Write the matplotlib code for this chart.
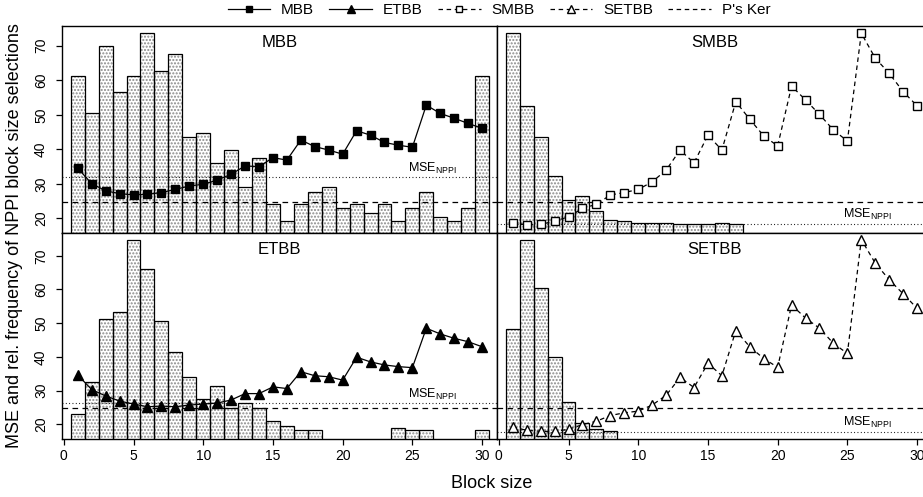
import numpy as np
import matplotlib
matplotlib.use("Agg")
import matplotlib.pyplot as plt
from matplotlib.lines import Line2D

plt.rcParams['font.family'] = ['Liberation Sans', 'DejaVu Sans']
plt.rcParams['mathtext.fontset'] = 'custom'
plt.rcParams['mathtext.rm'] = 'Liberation Sans'
plt.rcParams['mathtext.it'] = 'Liberation Sans'

block = np.arange(1, 31)

mbb_freq = [61.3, 50.6, 69.9, 56.7, 61.3, 73.6, 62.7, 67.6, 43.5, 44.6, 36.1, 39.8, 29.0, 37.4, 24.1,
            19.2, 24.1, 27.7, 29.0, 22.9, 24.1, 21.7, 24.1, 19.2, 22.9, 27.7, 20.5, 19.2, 22.9, 61.3]
mbb_mse = [34.5, 30.1, 28.0, 27.2, 26.8, 27.0, 27.5, 28.4, 29.4, 29.9, 31.1, 32.8, 35.2, 35.0, 37.6,
           36.9, 42.7, 40.8, 39.8, 38.6, 45.4, 44.1, 42.0, 41.2, 40.6, 52.8, 50.4, 49.0, 47.5, 46.1]

smbb_freq = [73.6, 52.6, 43.7, 32.3, 25.3, 26.5, 22.1, 19.7, 19.3, 18.7, 18.7, 18.7, 18.5, 18.4, 18.4,
             18.8, 18.4, 0, 0, 0, 0, 0, 0, 0, 0, 0, 0, 0, 0, 0]
smbb_mse = [18.8, 18.1, 18.3, 19.2, 20.5, 22.9, 24.1, 26.8, 27.5, 28.4, 30.6, 34.0, 39.8, 36.1, 44.1,
            39.8, 53.8, 48.7, 43.9, 41.0, 58.3, 54.3, 50.1, 45.6, 42.4, 73.6, 66.4, 62.0, 56.7, 52.6]

etbb_freq = [22.9, 32.4, 51.3, 53.2, 74.6, 66.1, 50.7, 41.5, 33.9, 27.4, 31.3, 24.9, 26.2, 24.9, 20.9,
             19.6, 18.2, 18.2, 0, 0, 0, 0, 0, 18.9, 18.2, 18.2, 0, 0, 0, 18.2]
etbb_mse = [34.6, 30.3, 28.4, 26.9, 26.0, 25.2, 25.4, 25.2, 25.7, 26.0, 26.3, 27.2, 29.1, 29.1, 31.1,
            30.6, 35.6, 34.4, 34.1, 33.1, 39.9, 38.5, 37.6, 37.1, 36.8, 48.5, 46.8, 45.5, 44.5, 43.0]

setbb_freq = [48.4, 74.6, 60.3, 39.9, 26.5, 20.4, 18.6, 17.9, 0, 0, 0, 0, 0, 0, 0,
              0, 0, 0, 0, 0, 0, 0, 0, 0, 0, 0, 0, 0, 0, 0]
setbb_mse = [19.2, 18.2, 17.9, 17.9, 18.5, 19.9, 20.9, 22.6, 23.4, 23.9, 25.7, 28.6, 33.9, 30.9, 38.1,
             34.4, 47.8, 43.0, 39.5, 36.9, 55.4, 51.5, 48.5, 44.0, 41.0, 74.8, 67.8, 62.9, 58.7, 54.4]

pker_mse = 24.9
nppi_mse = {"MBB": 31.9, "SMBB": 18.5, "ETBB": 26.2, "SETBB": 17.7}

yticks = [20, 30, 40, 50, 60, 70]
xticks = [0, 5, 10, 15, 20, 25, 30]

W, H = 923, 497
fig = plt.figure(figsize=(W / 100, H / 100), dpi=100)

def px_axes(x0, y0, x1, y1):
    return fig.add_axes([x0 / W, 1 - y1 / H, (x1 - x0) / W, (y1 - y0) / H])

dash = (0, (3.6, 2.9))

panels = [
    ("MBB", mbb_freq, mbb_mse, dict(marker='s', mfc='black', mec='black', ms=6, ls='-'), (62, 26, 497, 232.5), (15.94, 75.7), True, False),
    ("SMBB", smbb_freq, smbb_mse, dict(marker='s', mfc='white', mec='black', ms=5.5, mew=1.0, ls=dash), (497, 26, 932, 232.5), (15.94, 75.7), False, False),
    ("ETBB", etbb_freq, etbb_mse, dict(marker='^', mfc='black', mec='black', ms=6.5, ls='-'), (62, 232.5, 497, 439.3), (15.54, 76.9), True, True),
    ("SETBB", setbb_freq, setbb_mse, dict(marker='^', mfc='white', mec='black', ms=7.5, mew=1.0, ls=dash), (497, 232.5, 932, 439.3), (15.54, 76.9), False, True),
]

for name, freq, mse, style, rect, ylim, show_y, show_x in panels:
    ax = px_axes(*rect)
    ax.set_xlim(-0.13, 31.07)
    ax.set_ylim(*ylim)
    ax.bar(block, freq, width=1.0, bottom=0, color='white', edgecolor='#8a8a8a',
           hatch='.....', linewidth=0, zorder=1)
    ax.bar(block, freq, width=1.0, bottom=0, color='none', edgecolor='black',
           linewidth=0.9, zorder=2)
    ax.axhline(pker_mse, color='black', lw=0.9, ls=(0, (4.5, 3.5)), zorder=3)
    ax.axhline(nppi_mse[name], color='black', lw=0.8, ls=(0, (0.8, 2.2)), zorder=3)
    ax.plot(block, mse, color='black', lw=0.9, zorder=4, clip_on=True, **style)
    ax.annotate(r'$\mathrm{MSE}_{\mathrm{NPPI}}$', xy=(24.7, nppi_mse[name]), xytext=(0, 1.2),
                textcoords='offset points', ha='left', va='bottom', fontsize=9)
    ax.text(0.5, 0.92, name, transform=ax.transAxes, ha='center', va='center', fontsize=12)
    for sp in ax.spines.values():
        sp.set_linewidth(1.0)
    ax.tick_params(direction='out', length=4, width=0.9, labelsize=10)
    if show_y:
        ax.set_yticks(yticks)
        ax.set_yticklabels([str(v) for v in yticks], rotation=90, va='center')
        ax.tick_params(axis='y', pad=6)
    else:
        ax.set_yticks([])
    if show_x:
        ax.set_xticks(xticks)
        ax.tick_params(axis='x', pad=3)
    else:
        ax.set_xticks([])

fig.text(492 / W, 1 - 483 / H, "Block size", ha='center', va='center', fontsize=13)
fig.text(15 / W, 1 - 236 / H, "MSE and rel. frequency of NPPI block size selections",
         rotation=90, ha='center', va='center', fontsize=13)

handles = [
    Line2D([], [], color='black', lw=0.9, ls='-', marker='s', mfc='black', ms=5),
    Line2D([], [], color='black', lw=0.9, ls='-', marker='^', mfc='black', ms=5.5),
    Line2D([], [], color='black', lw=0.9, ls=dash, marker='s', mfc='white', ms=4.5),
    Line2D([], [], color='black', lw=0.9, ls=dash, marker='^', mfc='white', ms=5.5),
    Line2D([], [], color='black', lw=0.9, ls=dash),
]
labels = ["MBB", "ETBB", "SMBB", "SETBB", "P's Ker"]
fig.legend(handles, labels, loc='center', bbox_to_anchor=(499 / W, 1 - 10 / H), ncol=5,
           frameon=False, fontsize=11, handlelength=2.8, columnspacing=1.0, handletextpad=0.7)

fig.savefig("out.png", dpi=100)
